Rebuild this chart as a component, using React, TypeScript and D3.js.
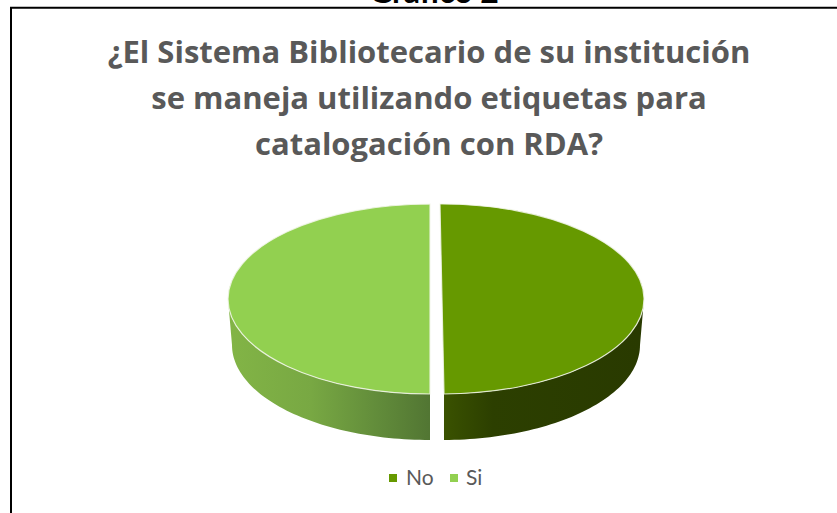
import React from "react";
import * as d3 from "d3";

const categories = ["No", "Si"];
const values = [50, 50];
const colors = ["#669900", "#92D050"];
const titleLines = [
  "¿El Sistema Bibliotecario de su institución",
  "se maneja utilizando etiquetas para",
  "catalogación con RDA?",
];
const caption = "Gráfico 2";
const rotations = [-0.01, 0]; // radians, per slice

const W = 837, H = 513;
const rx = 202, ry = 95, depth = 46, shrink = 4;
const centers = [{ x: 442, y: 299 }, { x: 430, y: 299 }];

const pieGen = d3.pie<number>().sort(null)(values);
const arcGen = d3.arc<any>().innerRadius(0).outerRadius(1);

function wallPath(i: number): string {
  const a = pieGen[i];
  const c = centers[i];
  const rot = rotations[i];
  const start = Math.PI / 2;
  const sweep = i === 0 ? [start, a.endAngle + rot] : [a.startAngle + rot, a.startAngle + Math.PI / 2];
  const top = d3.range(0, 61).map((k) => {
    const t = sweep[0] + ((sweep[1] - sweep[0]) * k) / 60;
    return [c.x + rx * Math.sin(t), c.y - ry * Math.cos(t)] as [number, number];
  });
  const bottom = top
    .map((_, k) => {
      const t = sweep[0] + ((sweep[1] - sweep[0]) * k) / 60;
      return [c.x + (rx - shrink) * Math.sin(t), c.y + depth - ry * Math.cos(t)] as [number, number];
    })
    .reverse();
  return d3.line()([...top, ...bottom]) + "Z";
}

export default function App() {
  const font = "Lato, Carlito, sans-serif";
  return (
    <svg width={W} height={H} viewBox={`0 0 ${W} ${H}`} style={{ position: "absolute", left: 0, top: 0, background: "#fff" }}>
      <defs>
        <linearGradient id="wall0" gradientUnits="userSpaceOnUse" x1={444} x2={640} y1={0} y2={0}>
          <stop offset="0" stopColor="#3A5200" />
          <stop offset="0.25" stopColor="#2C3F00" />
          <stop offset="1" stopColor="#293A00" />
        </linearGradient>
        <linearGradient id="wall1" gradientUnits="userSpaceOnUse" x1={232} x2={429} y1={0} y2={0}>
          <stop offset="0" stopColor="#82B446" />
          <stop offset="0.4" stopColor="#78A843" />
          <stop offset="0.75" stopColor="#618B3A" />
          <stop offset="1" stopColor="#527633" />
        </linearGradient>
      </defs>
      <text x={434} y={3} textAnchor="middle" fontFamily={font} fontWeight={700} fontSize={32} fill="#000">{caption}</text>
      <path d={`M11 ${H}V7.8H${W}`} fill="none" stroke="#000" strokeWidth={2} />
      {titleLines.map((t, i) => (
        <text key={t} x={429} y={[63, 109, 155][i]} textAnchor="middle" fontFamily="'Open Sans', sans-serif" fontWeight={700} fontSize={31} fill="#595959">{t}</text>
      ))}
      {pieGen.map((a, i) => (
        <path key={"w" + i} d={wallPath(i)} fill={`url(#wall${i})`} />
      ))}
      {pieGen.map((a, i) => (
        <path
          key={"t" + i}
          d={arcGen({ ...a, startAngle: a.startAngle + rotations[i], endAngle: a.endAngle + rotations[i] }) as string}
          transform={`translate(${centers[i].x},${centers[i].y}) scale(${rx},${ry})`}
          fill={colors[i]}
          stroke="#F2F6EA"
          strokeOpacity={0.85}
          strokeWidth={1.2}
          vectorEffect="non-scaling-stroke"
        />
      ))}
      {categories.map((c, i) => (
        <g key={c} transform={`translate(${[389, 450][i]},474)`}>
          <rect width={8} height={8} fill={colors[i]} />
          <text x={[17, 16][i]} y={11} fontFamily={font} fontSize={21} fill="#595959">{c}</text>
        </g>
      ))}
    </svg>
  );
}
